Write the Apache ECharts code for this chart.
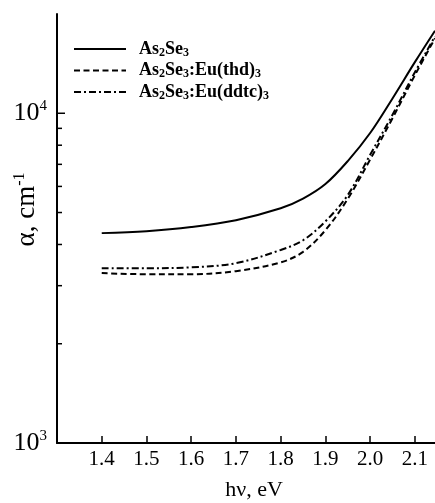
<!DOCTYPE html>
<html>
<head>
<meta charset="utf-8">
<script src="https://cdn.jsdelivr.net/npm/echarts@6/dist/echarts.min.js"></script>
<style>
html,body{margin:0;padding:0;background:#fff;}
#chart{width:435px;height:503px;}
</style>
</head>
<body>
<div id="chart"></div>
<script>
// Data
var energy = [1.40, 1.50, 1.60, 1.70, 1.80, 1.85, 1.90, 1.95, 2.00, 2.05, 2.10, 2.145];
var alphaAs2Se3 = [4330, 4390, 4520, 4740, 5150, 5510, 6100, 7160, 8710, 11090, 14290, 17800];
var alphaThd    = [3275, 3250, 3250, 3320, 3530, 3800, 4420, 5500, 7240, 9660, 13040, 16880];
var alphaDdtc   = [3390, 3390, 3410, 3510, 3850, 4120, 4700, 5650, 7480, 9900, 13320, 17100];
var seriesNames = ['As2Se3', 'As2Se3:Eu(thd)3', 'As2Se3:Eu(ddtc)3'];
var legendLabels = ['As{sub|2}Se{sub|3}', 'As{sub|2}Se{sub|3}:Eu(thd){sub|3}', 'As{sub|2}Se{sub|3}:Eu(ddtc){sub|3}'];
var yTickValues = [2000, 3000, 4000, 5000, 6000, 7000, 8000, 9000, 10000];
var xMin = 1.3, xMax = 2.145, yMin = 1000, yMax = 20000;

function pairs(xs, ys) { return xs.map(function (x, i) { return [x, ys[i]]; }); }

var FONT = 'Liberation Serif';
var chart = echarts.init(document.getElementById('chart'));

var lineBase = { type: 'line', smooth: 0.35, symbol: 'none', showSymbol: false, animation: false, color: '#000', itemStyle: { color: '#000' } };

chart.setOption({
  backgroundColor: '#fff',
  animation: false,
  color: ['#000'],
  grid: { left: 57, right: 0, top: 14, bottom: 60, containLabel: false, outerBoundsMode: 'none' },
  legend: {
    data: seriesNames,
    orient: 'vertical',
    left: 73,
    top: 40,
    padding: 0,
    itemWidth: 52,
    itemHeight: 14,
    itemGap: 3,
    itemStyle: { opacity: 0 },
    formatter: function (name) { return legendLabels[seriesNames.indexOf(name)]; },
    textStyle: {
      fontFamily: FONT, fontSize: 18, fontWeight: 'bold', color: '#000',
      padding: [0, 0, 0, 8],
      rich: {
        sub: { fontFamily: FONT, fontSize: 12, fontWeight: 'bold', color: '#000', padding: [7, 0, 0, 0] }
      }
    }
  },
  xAxis: {
    type: 'value', min: xMin, max: xMax, interval: 0.1,
    name: 'hν, eV', nameLocation: 'middle', nameGap: 36, nameMoveOverlap: false,
    nameTextStyle: { fontFamily: FONT, fontSize: 22, color: '#000', padding: [0, 0, 0, 16] },
    axisLine: { show: true, lineStyle: { color: '#000', width: 2 } },
    axisTick: { show: true, inside: true, length: 7, lineStyle: { color: '#000', width: 1.5 } },
    axisLabel: {
      margin: 6, fontFamily: FONT, fontSize: 21, color: '#000',
      showMinLabel: false, showMaxLabel: false,
      formatter: function (v) { return (v < 1.35 || v > 2.12) ? '' : v.toFixed(1); }
    },
    splitLine: { show: false }
  },
  yAxis: {
    type: 'log', logBase: 10, min: yMin, max: yMax,
    name: 'α, cm{sup|-1}', nameLocation: 'middle', nameRotate: 90, nameGap: 15, nameMoveOverlap: false,
    nameTextStyle: {
      fontFamily: FONT, fontSize: 27, color: '#000', padding: [0, 0, 0, 38],
      rich: { sup: { fontFamily: FONT, fontSize: 16, color: '#000', padding: [0, 0, 14, 0] } }
    },
    axisLine: { show: true, lineStyle: { color: '#000', width: 2 } },
    axisTick: { show: false },
    axisLabel: {
      margin: 10, fontFamily: FONT, fontSize: 26, color: '#000',
      showMaxLabel: false,
      formatter: function (v) {
        if (Math.abs(v - 1000) < 1) return '10{sup|3}';
        if (Math.abs(v - 10000) < 1) return '10{sup|4}';
        return '';
      },
      rich: { sup: { fontFamily: FONT, fontSize: 15, color: '#000', padding: [0, 0, 14, 0] } }
    },
    splitLine: { show: false }
  },
  series: [
    Object.assign({}, lineBase, { name: seriesNames[0], data: pairs(energy, alphaAs2Se3), lineStyle: { color: '#000', width: 2, type: 'solid' } }),
    Object.assign({}, lineBase, { name: seriesNames[1], data: pairs(energy, alphaThd), lineStyle: { color: '#000', width: 2, type: [6, 3.5] } }),
    Object.assign({}, lineBase, { name: seriesNames[2], data: pairs(energy, alphaDdtc), lineStyle: { color: '#000', width: 2, type: [7, 3, 2, 3] } }),
    {
      type: 'custom', name: 'yticks', silent: true, animation: false,
      data: yTickValues.map(function (v) { return [xMin, v]; }),
      renderItem: function (params, api) {
        var p = api.coord([api.value(0), api.value(1)]);
        var len = Math.abs(api.value(1) - 10000) < 1 ? 8 : 5;
        return { type: 'line', shape: { x1: p[0], y1: p[1], x2: p[0] + len, y2: p[1] }, style: { stroke: '#000', lineWidth: 1.5 } };
      },
      clip: false
    }
  ]
});
</script>
</body>
</html>
